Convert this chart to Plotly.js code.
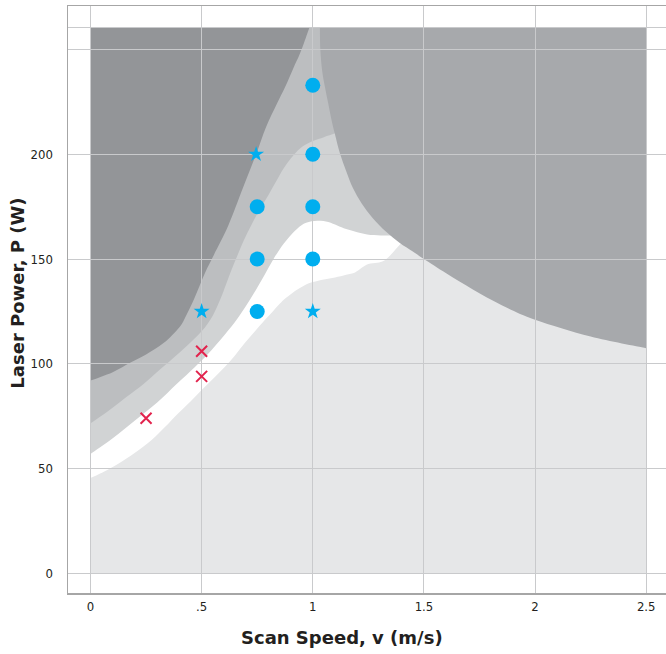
<!DOCTYPE html>
<html>
<head>
<meta charset="utf-8">
<script src="https://cdn.plot.ly/plotly-3.0.1.min.js"></script>
<style>
html,body{margin:0;padding:0;background:#ffffff;}
#chart{width:666px;height:654px;}
</style>
</head>
<body>
<div id="chart"></div>
<script>
// ---------- titles & tick labels ----------
const xTitle = 'Scan Speed, v (m/s)';
const yTitle = 'Laser Power, P (W)';
const xTickVals = [0, 0.5, 1, 1.5, 2, 2.5];
const xTickText = ['0', '.5', '1', '1.5', '2', '2.5'];
const yTickVals = [0, 50, 100, 150, 200, 250, 260.5];
const yTickText = ['0', '50', '100', '150', '200', '', ''];

// ---------- process-map extent ----------
const mapSpeed = [0, 2.5];
const mapPower = [0, 260.5];

// ---------- region boundaries (scan speed m/s, power W) ----------
// A: darkest region (lower-right edge)
const bndA_v = [0, 0.1, 0.178, 0.25, 0.33, 0.40, 0.43, 0.46, 0.49, 0.52, 0.555, 0.62, 0.686, 0.745, 0.79, 0.838, 0.875, 0.912, 0.94, 0.96, 0.975, 0.985];
const bndA_P = [92, 96, 100.5, 104.5, 110, 117.5, 123, 129.5, 137, 144.5, 152, 166, 184, 200, 213, 224, 232, 241, 247.5, 253, 257.5, 260.5];
// B: medium band lower edge
const bndB_v = [0, 0.08, 0.16, 0.24, 0.31, 0.37, 0.433, 0.50, 0.55, 0.585, 0.61, 0.635, 0.66, 0.69, 0.725, 0.76, 0.80, 0.84, 0.88, 0.94, 1.0, 1.05, 1.10, 1.14];
const bndB_P = [71.6, 77.5, 84, 90.5, 97, 102.5, 108.5, 115.5, 123, 131, 138, 145, 151.5, 159, 166.5, 173.5, 180.5, 188, 195, 202.5, 206.3, 208.2, 210, 212];
// C: light band lower edge (top of white band)
const bndC_v = [0, 0.1, 0.2, 0.3, 0.39, 0.47, 0.545, 0.62, 0.67, 0.72, 0.77, 0.815, 0.85, 0.89, 0.93, 0.97, 1.02, 1.07, 1.11, 1.15, 1.20, 1.26, 1.32, 1.37, 1.42, 1.46];
const bndC_P = [57, 64.5, 73, 81.5, 90.6, 98.5, 106.6, 116, 123, 131, 140, 148.5, 154.5, 160, 164.5, 167.3, 168.3, 167.7, 166, 164.3, 162.8, 161.5, 161.3, 161.2, 160.5, 161];
// D: bottom of white band
const bndD_v = [0, 0.06, 0.125, 0.2, 0.275, 0.335, 0.395, 0.45, 0.5, 0.555, 0.605, 0.65, 0.695, 0.74, 0.785, 0.82, 0.85, 0.88, 0.92, 0.96, 1.0, 1.05, 1.1, 1.15, 1.19, 1.22, 1.25, 1.29, 1.32, 1.35, 1.38, 1.42, 1.46];
const bndD_P = [45.5, 48.5, 52.3, 57.5, 63.6, 69.8, 76.4, 82, 87.5, 93.2, 98.6, 104, 110, 115.5, 121, 125, 128.5, 131.5, 134.8, 137.3, 139, 140.3, 141.2, 142.5, 143.6, 145.8, 147.6, 148.2, 149.2, 152, 155.5, 160, 164];
// E: right-hand region (left edge)
const bndE_v = [1.032, 1.034, 1.042, 1.055, 1.07, 1.085, 1.10, 1.122, 1.15, 1.18, 1.22, 1.27, 1.33, 1.39, 1.45, 1.5, 1.6, 1.72, 1.85, 2.0, 2.25, 2.5];
const bndE_P = [260.5, 250, 240, 232, 224, 216, 209.5, 200.5, 192, 184, 176.5, 169.5, 163, 157.8, 153.6, 150, 143.2, 135.5, 128, 121, 113, 107.4];

// ---------- experimental points ----------
const circleSpeed = [1, 1, 0.75, 1, 0.75, 1, 0.75];
const circlePower = [233, 200, 175, 175, 150, 150, 125];
const starSpeed = [0.745, 0.5, 1];
const starPower = [200, 125, 125];
const crossSpeed = [0.5, 0.5, 0.25];
const crossPower = [106, 94, 74];

// ---------- helpers ----------
function smoothPath(vs, ps) {
  const n = vs.length;
  let d = 'M ' + vs[0] + ',' + ps[0];
  for (let i = 0; i < n - 1; i++) {
    const i0 = Math.max(0, i - 1), i3 = Math.min(n - 1, i + 2);
    const c1x = vs[i] + (vs[i + 1] - vs[i0]) / 6;
    const c1y = ps[i] + (ps[i + 1] - ps[i0]) / 6;
    const c2x = vs[i + 1] - (vs[i3] - vs[i]) / 6;
    const c2y = ps[i + 1] - (ps[i3] - ps[i]) / 6;
    d += ' C ' + c1x + ',' + c1y + ' ' + c2x + ',' + c2y + ' ' + vs[i + 1] + ',' + ps[i + 1];
  }
  return d;
}
function regionAbove(vs, ps) {
  const last = vs.length - 1;
  return smoothPath(vs, ps) + ' L ' + vs[last] + ',' + mapPower[1] + ' L ' + mapSpeed[0] + ',' + mapPower[1] + ' Z';
}
function regionRight(vs, ps) {
  return smoothPath(vs, ps) + ' L ' + mapSpeed[1] + ',' + mapPower[1] + ' Z';
}
function fillShape(path, color) {
  return {type: 'path', xref: 'x', yref: 'y', layer: 'below', path: path,
          fillcolor: color, line: {width: 0}};
}

const shapes = [
  {type: 'rect', xref: 'x', yref: 'y', layer: 'below',
   x0: mapSpeed[0], x1: mapSpeed[1], y0: mapPower[0], y1: mapPower[1],
   fillcolor: '#e6e7e8', line: {width: 0}},
  fillShape(regionAbove(bndD_v, bndD_P), '#ffffff'),
  fillShape(regionAbove(bndC_v, bndC_P), '#d1d3d4'),
  fillShape(regionAbove(bndB_v, bndB_P), '#bcbec0'),
  fillShape(regionAbove(bndA_v, bndA_P), '#939598'),
  fillShape(regionRight(bndE_v, bndE_P), '#a7a9ac')
];

const traces = [
  {type: 'scatter', mode: 'markers', x: circleSpeed, y: circlePower,
   marker: {symbol: 'circle', size: 15, color: '#00aeef', line: {width: 0}},
   hoverinfo: 'x+y', showlegend: false},
  {type: 'scatter', mode: 'markers', x: starSpeed, y: starPower,
   marker: {symbol: 'star', size: 12, color: '#00aeef', line: {width: 0}},
   hoverinfo: 'x+y', showlegend: false},
  {type: 'scatter', mode: 'markers', x: crossSpeed, y: crossPower,
   marker: {symbol: 'x-thin-open', size: 11, color: '#e2234d', line: {width: 2, color: '#e2234d'}},
   hoverinfo: 'x+y', showlegend: false}
];

const tickFont = {family: 'Liberation Sans Narrow, DejaVu Sans Condensed, Roboto, sans-serif', size: 13, color: '#231f20'};
const titleFont = {family: 'DejaVu Sans, Roboto, sans-serif', size: 18, color: '#231f20', weight: 'bold'};

const layout = {
  width: 666, height: 654,
  margin: {l: 68, r: 0, t: 6, b: 61, pad: 0},
  paper_bgcolor: '#ffffff', plot_bgcolor: '#ffffff',
  showlegend: false,
  shapes: shapes,
  annotations: [
    {text: xTitle, xref: 'paper', yref: 'paper', x: 0.458, y: -0.075,
     xanchor: 'center', yanchor: 'middle', showarrow: false, font: titleFont},
    {text: yTitle, xref: 'paper', yref: 'paper', x: -0.0836, y: 0.51, textangle: -90,
     xanchor: 'center', yanchor: 'middle', showarrow: false, font: titleFont}
  ],
  xaxis: {
    range: [-0.1012, 2.589], tickmode: 'array', tickvals: xTickVals, ticktext: xTickText,
    showgrid: true, gridcolor: '#c9cacc', gridwidth: 1, zeroline: false,
    showline: true, linecolor: '#a6a6a6', linewidth: 1.5, mirror: true,
    ticks: '', ticklabelstandoff: 1, tickfont: tickFont
  },
  yaxis: {
    range: [-9.4, 270.8], tickmode: 'array', tickvals: yTickVals, ticktext: yTickText,
    showgrid: true, gridcolor: '#c9cacc', gridwidth: 1, zeroline: false,
    showline: true, linecolor: '#a6a6a6', linewidth: 1.5, mirror: false,
    ticks: '', ticklabelstandoff: 11, tickfont: tickFont
  }
};

Plotly.newPlot('chart', traces, layout, {displayModeBar: false, staticPlot: true});
</script>
</body>
</html>
